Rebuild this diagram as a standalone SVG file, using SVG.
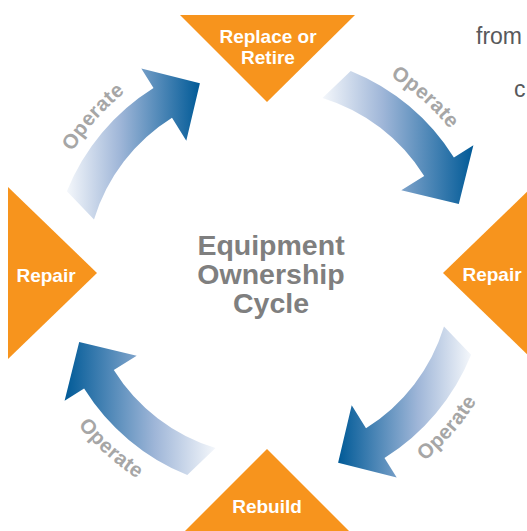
<svg xmlns="http://www.w3.org/2000/svg" width="527" height="531" viewBox="0 0 527 531">
  <defs>
    <!-- light tail to dark head, left to right -->
    <linearGradient id="gradLR" x1="0" y1="0" x2="1" y2="0">
      <stop offset="0" stop-color="#f4f7fb"/>
      <stop offset="0.4" stop-color="#9fb6d8"/>
      <stop offset="1" stop-color="#005a97"/>
    </linearGradient>
    <!-- dark head on the left, light tail on the right -->
    <linearGradient id="gradRL" x1="1" y1="0" x2="0" y2="0">
      <stop offset="0" stop-color="#f4f7fb"/>
      <stop offset="0.4" stop-color="#9fb6d8"/>
      <stop offset="1" stop-color="#005a97"/>
    </linearGradient>
    <!-- label paths: clockwise arcs for the upper labels, counter-clockwise for the lower ones -->
    <path id="lblTL" d="M42.7 226.5 A231 231 0 0 1 196.1 53.8"/>
    <path id="lblTR" d="M315.4 46.7 A231 231 0 0 1 488.2 200.1"/>
    <path id="lblBR" d="M348.4 503.7 A244 244 0 0 0 508.5 319.6"/>
    <path id="lblBL" d="M36.9 348.4 A244 244 0 0 0 218.3 511.7"/>
  </defs>
  <style>
    .stage { fill: #f7941d; }
    .stage-label { font-family: "Liberation Sans", Arial, sans-serif; font-weight: bold; font-size: 19px; fill: #ffffff; text-anchor: middle; }
    .title { font-family: "Liberation Sans", Arial, sans-serif; font-weight: bold; font-size: 28.5px; fill: #7f7f7f; text-anchor: middle; }
    .op { font-family: "Liberation Sans", Arial, sans-serif; font-weight: bold; font-size: 20.5px; letter-spacing: 0.4px; fill: #a6a6a6; }
    .aside { font-family: "Liberation Sans", Arial, sans-serif; font-size: 23px; fill: #58595b; }
  </style>

  <rect width="527" height="531" fill="#ffffff"/>

  <!-- side text -->
  <text class="aside" x="476" y="44">from</text>
  <text class="aside" x="514" y="97">c</text>

  <!-- cycle arrows -->
  <g id="connectors">
    <path d="M66.9 191.3 A218 218 0 0 1 153.5 88.1 L141.3 68.6 L199.9 83.2 L186.3 140.7 L172.0 117.8 A183 183 0 0 0 94.0 219.5 Z" fill="url(#gradLR)"/>
    <path d="M350.7 70.9 A218 218 0 0 1 453.9 157.5 L473.4 145.3 L458.8 203.9 L401.3 190.3 L424.2 176.0 A183 183 0 0 0 322.5 98.0 Z" fill="url(#gradLR)"/>
    <path d="M471.1 354.7 A218 218 0 0 1 384.5 457.9 L396.7 477.4 L338.1 462.8 L351.7 405.3 L366.0 428.2 A183 183 0 0 0 444.0 326.5 Z" fill="url(#gradRL)"/>
    <path d="M187.3 475.1 A218 218 0 0 1 84.1 388.5 L64.6 400.7 L79.2 342.1 L136.7 355.7 L113.8 370.0 A183 183 0 0 0 215.5 448.0 Z" fill="url(#gradRL)"/>

    <text class="op"><textPath href="#lblTL" startOffset="50%" text-anchor="middle">Operate</textPath></text>
    <text class="op"><textPath href="#lblTR" startOffset="50%" text-anchor="middle">Operate</textPath></text>
    <text class="op"><textPath href="#lblBR" startOffset="50%" text-anchor="middle">Operate</textPath></text>
    <text class="op"><textPath href="#lblBL" startOffset="50%" text-anchor="middle">Operate</textPath></text>
  </g>

  <!-- stages -->
  <g id="node-replace">
    <polygon class="stage" points="180,15 355,15 267,102"/>
    <text class="stage-label" x="268" y="43">Replace or</text>
    <text class="stage-label" x="268" y="64">Retire</text>
  </g>
  <g id="node-repair-left">
    <polygon class="stage" points="8,187 8,359 97,273"/>
    <text class="stage-label" x="46" y="282">Repair</text>
  </g>
  <g id="node-repair-right">
    <polygon class="stage" points="443,273 532,187 532,359"/>
    <text class="stage-label" x="492" y="281">Repair</text>
  </g>
  <g id="node-rebuild">
    <polygon class="stage" points="267,449 355,537 179,537"/>
    <text class="stage-label" x="267" y="513">Rebuild</text>
  </g>

  <!-- centre title -->
  <g id="node-title">
    <text class="title" x="271" y="255">Equipment</text>
    <text class="title" x="271" y="284">Ownership</text>
    <text class="title" x="271" y="313">Cycle</text>
  </g>
</svg>
